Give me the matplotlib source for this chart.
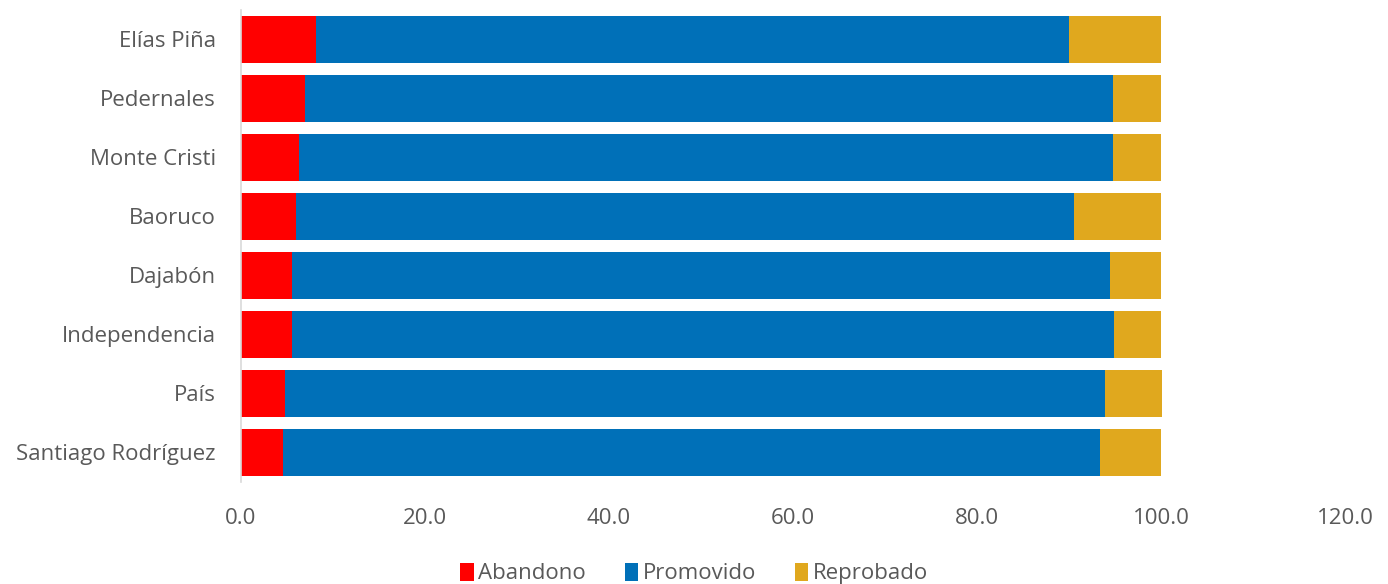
import matplotlib.pyplot as plt
import numpy as np

plt.rcParams['font.family'] = ['Open Sans', 'DejaVu Sans']

provincias = ['Elías Piña', 'Pedernales', 'Monte Cristi', 'Baoruco', 'Dajabón',
              'Independencia', 'País', 'Santiago Rodríguez']
abandono = [8.2, 7.0, 6.3, 6.0, 5.6, 5.5, 4.8, 4.6]
promovido = [81.8, 87.8, 88.5, 84.5, 88.9, 89.4, 89.1, 88.8]
reprobado = [10.0, 5.2, 5.2, 9.5, 5.5, 5.1, 6.2, 6.6]

gris = '#595959'

fig = plt.figure(figsize=(13.88, 5.84), dpi=100)
ax = fig.add_axes([0.1736, 0.175, 0.7954, 0.808])

y = np.arange(len(provincias))
a = np.array(abandono)
p = np.array(promovido)
r = np.array(reprobado)
h = 0.79
ax.barh(y, a, height=h, color='#ff0000', label='Abandono')
ax.barh(y, p, left=a, height=h, color='#0070b8', label='Promovido')
ax.barh(y, r, left=a + p, height=h, color='#e0a81e', label='Reprobado')

ax.set_ylim(len(provincias) - 0.5, -0.5)
ax.set_xlim(0, 120)
ax.set_xticks(np.arange(0, 121, 20))
ax.set_xticklabels([f'{v:.1f}' for v in np.arange(0, 121, 20)])
ax.set_yticks(y)
ax.set_yticklabels(provincias)
ax.tick_params(axis='both', length=0, labelsize=16, colors=gris)
ax.tick_params(axis='x', pad=19)
ax.tick_params(axis='y', pad=18)

for s in ['top', 'right', 'bottom']:
    ax.spines[s].set_visible(False)
ax.spines['left'].set_color('#d9d9d9')
ax.spines['left'].set_linewidth(1.2)

leg = fig.legend(loc='lower center', bbox_to_anchor=(0.5, -0.035), ncol=3, frameon=False,
                 fontsize=16, handlelength=0.6, handleheight=0.9, handletextpad=0.2,
                 columnspacing=1.75)
for t in leg.get_texts():
    t.set_color(gris)

fig.savefig('out.png', dpi=100)
